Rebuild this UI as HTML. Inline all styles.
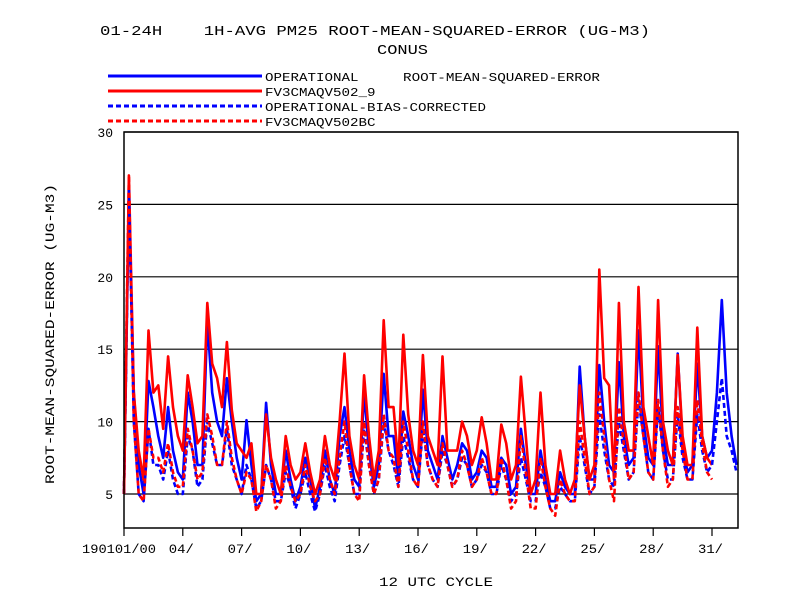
<!DOCTYPE html>
<html><head><meta charset="utf-8"><style>
html,body{margin:0;padding:0;background:#fff;}
svg{display:block;}
text{font-family:"Liberation Mono",monospace;fill:#000;}
</style></head><body>
<svg id="chart" width="792" height="612" viewBox="0 0 792 612" xmlns="http://www.w3.org/2000/svg">
<rect x="0" y="0" width="792" height="612" fill="#fff"/>
<text x="100" y="35" font-size="14" style="white-space:pre" textLength="550" lengthAdjust="spacingAndGlyphs">01-24H    1H-AVG PM25 ROOT-MEAN-SQUARED-ERROR (UG-M3)</text>
<text x="377" y="54" font-size="14" textLength="51" lengthAdjust="spacingAndGlyphs">CONUS</text>
<g id="legend"></g>
<g id="grid"></g>
<g id="series"></g>
<rect x="124" y="132" width="614" height="396" fill="none" stroke="#000" stroke-width="1.5"/>
<g id="axes"></g>
<text transform="translate(54,334) rotate(-90)" text-anchor="middle" font-size="13" textLength="300" lengthAdjust="spacingAndGlyphs">ROOT-MEAN-SQUARED-ERROR (UG-M3)</text>
<text x="436" y="586" text-anchor="middle" font-size="13" textLength="114" lengthAdjust="spacingAndGlyphs">12 UTC CYCLE</text>
</svg>
<script>
const seriesNames = ["OPERATIONAL","FV3CMAQV502_9","OPERATIONAL-BIAS-CORRECTED","FV3CMAQV502BC"];
const yTicks = [5,10,15,20,25,30];
const xTickDays = [0,3,6,9,12,15,18,21,24,27,30];
const xTickLabels = ["190101/00","04/","07/","10/","13/","16/","19/","22/","25/","28/","31/"];
const stepDays = 0.25;
const opValues = [5,25.5,12,7, 5,12.8,11,9, 7.5,11,8,6.5, 6,12,10,7, 7,17,12,10, 9,13,10,7.5, 6,10.1,7,4.5, 5,11.3,7,5, 5,8,6,4.5, 5.5,7.5,6,4, 5.5,8,6,5, 9,11,8,6, 5.5,12,8,5.5, 7,13.3,9,9, 6,10.7,9,7, 6,12.2,8,7, 6,9,7.5,6, 7,8.5,8,6, 6.5,8,7.5,5.5, 5.5,7.5,7,5, 5.5,9.5,7,5, 5,8,6,4.5, 4.5,6.5,5.5,5, 5,13.8,9,6, 6,13.9,10,7, 6.5,14.1,9,7, 7.5,16.3,10,7.5, 7,15.2,9,7, 7,14.7,8.5,6.5, 7,14,9,7.5, 8,12,18.4,12, 9,7];
const fv3Values = [5,27,12,8, 6,16.3,12,12.5, 9.5,14.5,11,9, 8,13.2,11,8.5, 9,18.2,14,13, 11,15.5,10.8,8.5, 8,7.5,8.5,5, 5,10.5,7.5,6, 5,9,7,6, 6.5,8.5,6.5,5, 6,9,7,6, 10,14.7,9,7, 6,13.2,9,6, 8,17,11,11, 7,16,10.5,8, 7,14.6,9,8, 7,14.5,8,8, 8,10,9,7, 8,10.3,8.5,6, 6,9.8,8.5,6, 7,13.1,9,5, 6,12,7,5, 5,8,6,5, 6,12.5,9,6, 7,20.5,13,12.5, 6,18.2,10,8, 8,19.3,11,9, 7,18.4,10,8, 7,14.6,9,7, 7,16.5,9,7.5, 7];
const opBcValues = [5,26,10,5, 4.5,9.5,7,7, 6,8,6,5, 5,9,8,5.5, 6,10,8.5,7, 7,9.5,7,6, 5,7,6,4, 4.5,7,6,4.5, 4.5,6.5,5.5,4, 5,6.5,5,3.8, 5,7,5.5,4.5, 7,9,7,5, 5,9.5,7,5, 6,10,8,7, 5.5,9,7.5,6, 5.5,9.5,7,6, 5.5,8,7,5.5, 6,7.5,7,5.5, 6,7,6.5,5, 5,7,6,4.5, 5,7.5,6,4.5, 4.5,6.5,5.5,4, 4,5.5,5,4.5, 4.5,9,7,5, 5.5,10.5,8,6, 5.5,10,8,6, 6.5,11.5,9,6.5, 6,11,8,6, 6,10.5,7.5,6, 6,10.5,8,6.5, 7,10,13,9, 8,6.5];
const fv3BcValues = [5,27,10,5, 4.5,9.5,7.5,7.5, 6.5,8.5,6.5,5.5, 5.5,9.5,8,6, 6.5,10.5,9,7, 7,10,7.5,6, 5,6.5,6,3.8, 4.5,7,6,4, 4.5,7,5.5,4.5, 5,7,5.5,4.5, 5,7.5,6,5, 7.5,10,7,5, 4.5,10,7,5, 6,10.5,8,7.5, 5.5,10,8,6, 5.5,10,7,6, 5.5,8.5,7,5.5, 6,8,7,5.5, 6,7.5,6.5,5, 5,7.5,6,4, 4.5,9,6.5,4, 4,7.5,5.5,4, 3.5,6,5,4.5, 4.5,10,7.5,5, 5.5,12,9,6, 4.5,11,8.5,6, 6.5,12,9,6.5, 6,11.5,8,5.5, 6,11,8,6, 6,11.5,8.5,6.5, 6];

const NS = "http://www.w3.org/2000/svg";
const X0 = 124, PXD = 19.6, Y5 = 494, PXV = 14.48;
function xScale(d){ return X0 + d*PXD; }
function yScale(v){ return Y5 - (v-5)*PXV; }
function mk(tag, attrs, parent){ const e=document.createElementNS(NS,tag); for(const k in attrs) e.setAttribute(k,attrs[k]); parent.appendChild(e); return e; }

const grid = document.getElementById('grid');
const axes = document.getElementById('axes');
yTicks.forEach((v,i)=>{
  const gl = mk('line',{x1:124,x2:738,y1:yScale(v),y2:yScale(v),stroke:'#000','stroke-width':1.2},grid);
  
  
  const t = mk('text',{x:113,y:yScale(v)+5,'text-anchor':'end','font-size':13},axes);
  t.textContent = String(v);
  
  
});
xTickDays.forEach((d,i)=>{
  const tk = mk('line',{x1:xScale(d),x2:xScale(d),y1:528,y2:536,stroke:'#000','stroke-width':1.2},axes);
  
  
  const lab = xTickLabels[i];
  const t = mk('text',{x: i===0 ? 82 : xScale(d)-14, y:553,'font-size':13},axes);
  if(i===0){ t.setAttribute('textLength','74'); t.setAttribute('lengthAdjust','spacingAndGlyphs'); }
  else { t.setAttribute('textLength','25'); t.setAttribute('lengthAdjust','spacingAndGlyphs'); }
  t.textContent = lab;
  
  
});

const seriesDefs = [
  {vals:opValues,color:'#0000ff',dash:null,name:'series-operational'},
  {vals:fv3Values,color:'#ff0000',dash:null,name:'series-fv3cmaqv502-9'},
  {vals:opBcValues,color:'#0000ff',dash:'5,3',name:'series-operational-bias-corrected'},
  {vals:fv3BcValues,color:'#ff0000',dash:'5,3',name:'series-fv3cmaqv502bc'}
];
const sg = document.getElementById('series');
seriesDefs.forEach(s=>{
  const pts = s.vals.map((v,i)=>xScale(i*stepDays).toFixed(1)+','+yScale(v).toFixed(1)).join(' ');
  const attrs = {points:pts,fill:'none',stroke:s.color,'stroke-width':2.6,'stroke-linejoin':'round'};
  if(s.dash) attrs['stroke-dasharray']=s.dash;
  const pl = mk('polyline',attrs,sg);
  
  
});

const lg = document.getElementById('legend');
const legendY = [76,91,106,121];
seriesDefs.forEach((s,i)=>{
  const attrs = {x1:108,x2:262,y1:legendY[i],y2:legendY[i],stroke:s.color,'stroke-width':3};
  if(s.dash) attrs['stroke-dasharray']=s.dash;
  const ln = mk('line',attrs,lg);
  
  
  const t = mk('text',{x:265,y:legendY[i]+5,'font-size':12,textLength:seriesNames[i].length*8.5,lengthAdjust:'spacingAndGlyphs'},lg);
  t.textContent = seriesNames[i];
  
  
});
const lt = mk('text',{x:403,y:81,'font-size':12,textLength:197,lengthAdjust:'spacingAndGlyphs'},lg);
lt.textContent = 'ROOT-MEAN-SQUARED-ERROR';


</script>
</body></html>
